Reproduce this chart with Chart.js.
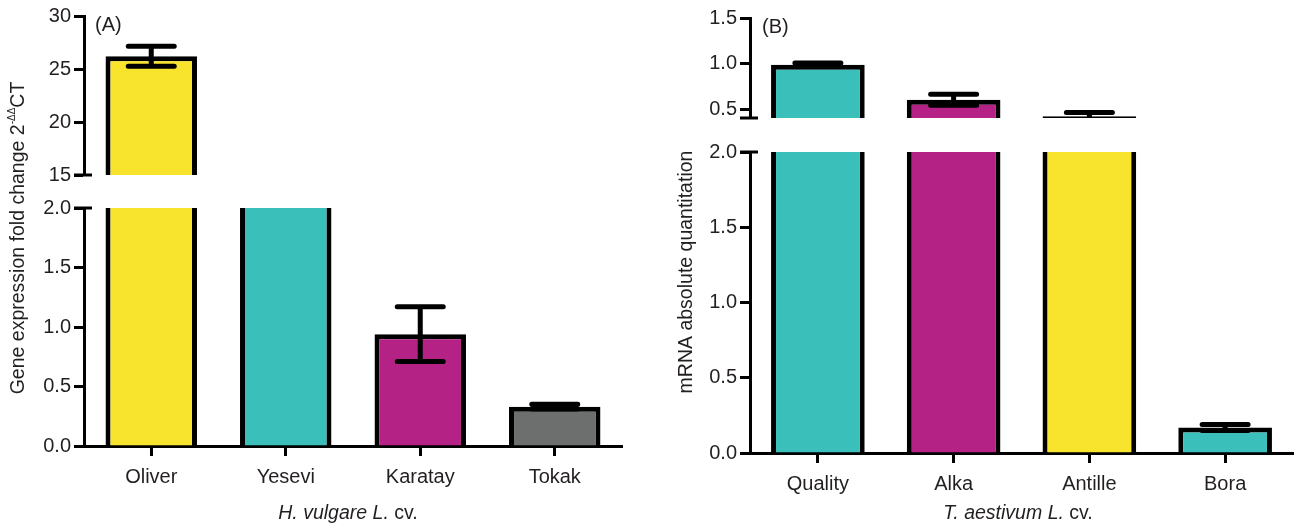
<!DOCTYPE html>
<html>
<head>
<meta charset="utf-8">
<title>Expression by cultivar</title>
<script src="https://cdn.jsdelivr.net/npm/chart.js@4.4.1/dist/chart.umd.min.js"></script>
<style>
  body { margin: 0; background: #fff; }
  #wrap { position: relative; width: 1294px; height: 526px; overflow: hidden; }
  #wrap canvas { position: absolute; top: 0; }
</style>
</head>
<body>
<div id="wrap">
  <canvas id="barleyLow" width="640" height="526" style="left:0"></canvas>
  <canvas id="barleyHigh" width="640" height="190" style="left:0"></canvas>
  <canvas id="wheatLow" width="654" height="526" style="left:640px"></canvas>
  <canvas id="wheatHigh" width="654" height="140" style="left:640px"></canvas>
</div>
<script>
const FONT = "'Liberation Sans', Arial, Helvetica, sans-serif";
const INK = '#231f20';

// (A) barley, fold change; the axis is broken between 2 and 15
const barleyCultivars = ['Oliver', 'Yesevi', 'Karatay', 'Tokak'];
const barleyFold = [26.2, 8.0, 0.94, 0.33];
const barleyFoldSd = [0.95, 0, 0.23, 0.02];
const barleyBroken = [true, true, false, false];
const barleyColours = ['#f8e42c', '#3abfba', '#b52286', '#6d6f6f'];
const barleyTicksLow = [0, 0.5, 1.0, 1.5, 2.0];
const barleyTicksHigh = [15, 20, 25, 30];

// (B) wheat, absolute mRNA quantitation
const wheatCultivars = ['Quality', 'Alka', 'Antille', 'Bora'];
const wheatMrna = [0.99, 0.61, 0.43, 0.17];
const wheatMrnaSd = [0.02, 0.06, 0.04, 0.02];
const wheatBroken = [true, true, true, false];
const wheatColours = ['#3abfba', '#b52286', '#f8e42c', '#3abfba'];
const wheatTicksLow = [0, 0.5, 1.0, 1.5, 2.0];
const wheatTicksHigh = [0.5, 1.0, 1.5];

// bars that continue over the break run off the top of the lower segment
function lowerSegment(values, broken, top) {
  return values.map((v, i) => broken[i] ? Math.max(v, top * 1.2) : v);
}

const errorBars = {
  id: 'errorBars',
  afterDatasetsDraw(chart, args, opts) {
    const {ctx, chartArea: a} = chart;
    const y = chart.scales.y;
    const vals = chart.data.datasets[0].data;
    ctx.save();
    ctx.beginPath();
    ctx.rect(a.left, a.top - 6, a.right - a.left, a.bottom - a.top + 6);
    ctx.clip();
    ctx.strokeStyle = '#000';
    ctx.lineWidth = 5;
    ctx.lineCap = 'round';
    chart.getDatasetMeta(0).data.forEach((bar, i) => {
      const sd = opts.sd[i];
      if (!sd) return;
      const hi = y.getPixelForValue(vals[i] + sd);
      const lo = y.getPixelForValue(vals[i] - sd);
      ctx.beginPath();
      ctx.moveTo(bar.x, hi); ctx.lineTo(bar.x, lo);
      ctx.moveTo(bar.x - 23, hi); ctx.lineTo(bar.x + 23, hi);
      ctx.moveTo(bar.x - 23, lo); ctx.lineTo(bar.x + 23, lo);
      ctx.stroke();
    });
    ctx.restore();
  }
};

// cap across the y axis where it is broken
const breakMark = {
  id: 'breakMark',
  afterDraw(chart, args, opts) {
    const {ctx, chartArea: a} = chart;
    const yy = opts.edge === 'top' ? a.top : a.bottom;
    ctx.save();
    ctx.strokeStyle = '#000';
    ctx.lineWidth = 3;
    ctx.beginPath();
    ctx.moveTo(a.left - 10, yy);
    ctx.lineTo(a.left + 8, yy);
    ctx.stroke();
    ctx.restore();
  }
};

// text made of runs with their own style, centred on (cx, cy)
function richText(ctx, runs, cx, cy, angle) {
  ctx.save();
  ctx.translate(cx, cy);
  ctx.rotate(angle || 0);
  ctx.fillStyle = INK;
  ctx.textBaseline = 'middle';
  ctx.textAlign = 'left';
  let total = 0;
  runs.forEach(r => { ctx.font = r.font; r.w = ctx.measureText(r.text).width; total += r.w; });
  let x = -total / 2;
  runs.forEach(r => { ctx.font = r.font; ctx.fillText(r.text, x, r.dy || 0); x += r.w; });
  ctx.restore();
}

const panelText = {
  id: 'panelText',
  afterDraw(chart, args, opts) {
    const ctx = chart.ctx;
    if (opts.tag) {
      ctx.save();
      ctx.fillStyle = INK;
      ctx.font = '20px ' + FONT;
      ctx.textBaseline = 'middle';
      ctx.fillText(opts.tag.text, opts.tag.x, opts.tag.y);
      ctx.restore();
    }
    if (opts.yTitle) richText(ctx, opts.yTitle.runs, opts.yTitle.x, opts.yTitle.y, -Math.PI / 2);
    if (opts.xTitle) richText(ctx, opts.xTitle.runs, opts.xTitle.x, opts.xTitle.y, 0);
  }
};

function panel(id, o) {
  return new Chart(document.getElementById(id), {
    type: 'bar',
    data: {
      labels: o.labels,
      datasets: [{
        data: o.data,
        backgroundColor: o.colours,
        borderColor: '#000',
        borderWidth: 5,
        borderSkipped: 'start',
        clip: 0,
        barPercentage: o.barPct,
        categoryPercentage: 1
      }]
    },
    options: {
      responsive: false,
      animation: false,
      events: [],
      layout: { padding: o.padding },
      plugins: {
        legend: { display: false },
        tooltip: { enabled: false },
        errorBars: { sd: o.sd },
        breakMark: { edge: o.breakEdge },
        panelText: o.text || {}
      },
      scales: {
        x: {
          display: o.showX,
          grid: { offset: false, drawOnChartArea: false, tickLength: 10, tickWidth: 3, tickColor: '#000' },
          border: { color: '#000', width: 3 },
          ticks: { color: INK, font: { family: FONT, size: 20 }, padding: 9 },
          afterFit: s => { s.height = o.xHeight || s.height; }
        },
        y: {
          min: o.min,
          max: o.max,
          afterBuildTicks: s => { s.ticks = o.ticks.map(v => ({ value: v })); },
          grid: { drawOnChartArea: false, tickLength: 10, tickWidth: 3, tickColor: '#000' },
          border: { color: '#000', width: 3 },
          ticks: { color: INK, font: { family: FONT, size: 20 }, padding: 3, callback: o.fmt },
          afterFit: s => { s.width = o.yWidth; }
        }
      }
    },
    plugins: [errorBars, breakMark, panelText]
  });
}

const oneDp = v => Number(v).toFixed(1);
const f19 = '19.5px ' + FONT;
const i19 = 'italic 19.5px ' + FONT;

panel('barleyLow', {
  labels: barleyCultivars,
  data: lowerSegment(barleyFold, barleyBroken, barleyTicksLow[barleyTicksLow.length - 1]),
  sd: barleyFoldSd, colours: barleyColours, barPct: 0.68,
  min: 0, max: 2, ticks: barleyTicksLow, fmt: oneDp,
  showX: true, xHeight: 80, yWidth: 84, breakEdge: 'top',
  padding: { top: 208, bottom: 0, left: 0, right: 18 },
  text: {
    yTitle: { x: 19, y: 238, runs: [
      { text: 'Gene expression fold change 2', font: f19 },
      { text: '-ΔΔ', font: '10px ' + FONT, dy: -7 },
      { text: 'CT', font: f19 }
    ] },
    xTitle: { x: 348, y: 514, runs: [
      { text: 'H. vulgare L.', font: i19 },
      { text: ' cv.', font: f19 }
    ] }
  }
});

panel('barleyHigh', {
  labels: barleyCultivars,
  data: barleyFold,
  sd: barleyFoldSd, colours: barleyColours, barPct: 0.68,
  min: 15, max: 30, ticks: barleyTicksHigh, fmt: v => String(v),
  showX: false, yWidth: 84, breakEdge: 'bottom',
  padding: { top: 16, bottom: 15, left: 0, right: 18 },
  text: { tag: { text: '(A)', x: 95, y: 25 } }
});

panel('wheatLow', {
  labels: wheatCultivars,
  data: lowerSegment(wheatMrna, wheatBroken, wheatTicksLow[wheatTicksLow.length - 1]),
  sd: wheatMrnaSd, colours: wheatColours, barPct: 0.69,
  min: 0, max: 2, ticks: wheatTicksLow, fmt: oneDp,
  showX: true, xHeight: 73, yWidth: 110, breakEdge: 'top',
  padding: { top: 152, bottom: 0, left: 0, right: 1 },
  text: {
    yTitle: { x: 47, y: 272, runs: [{ text: 'mRNA absolute quantitation', font: f19 }] },
    xTitle: { x: 378, y: 514, runs: [
      { text: 'T. aestivum L.', font: i19 },
      { text: ' cv.', font: f19 }
    ] }
  }
});

panel('wheatHigh', {
  labels: wheatCultivars,
  data: wheatMrna,
  sd: wheatMrnaSd, colours: wheatColours, barPct: 0.69,
  min: 0.41, max: 1.5, ticks: wheatTicksHigh, fmt: oneDp,
  showX: false, yWidth: 110, breakEdge: 'bottom',
  padding: { top: 18, bottom: 22, left: 0, right: 1 },
  text: { tag: { text: '(B)', x: 122, y: 27 } }
});
</script>
</body>
</html>
